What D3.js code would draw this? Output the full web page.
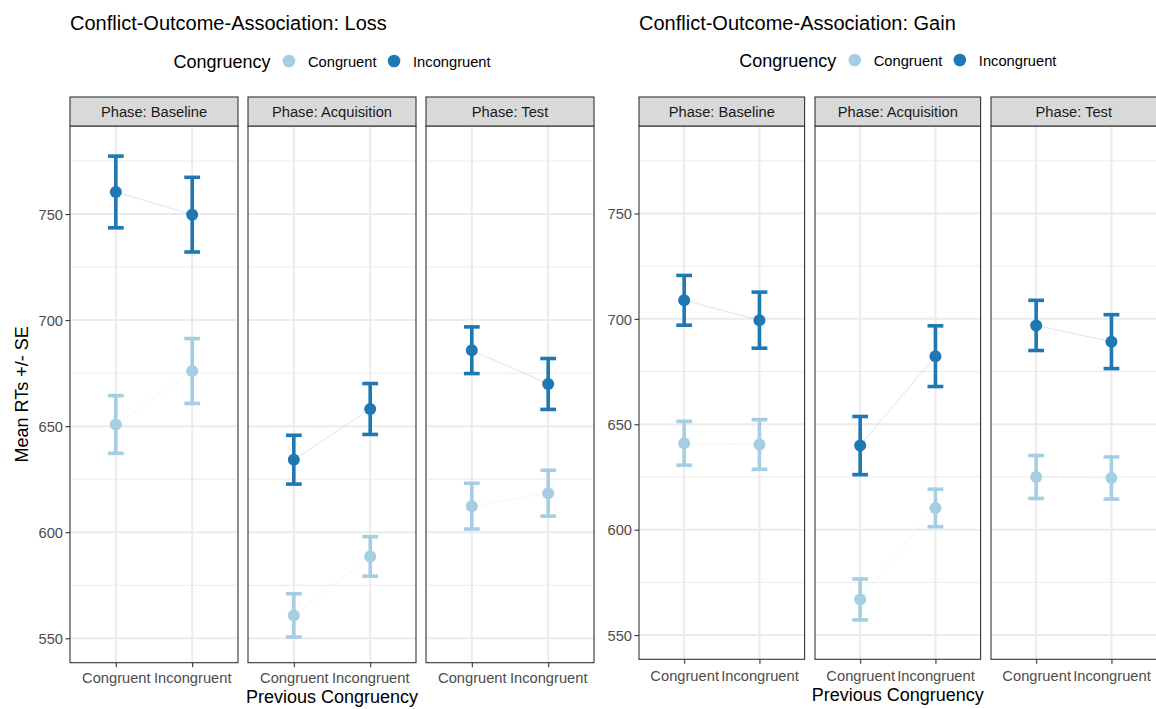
<!DOCTYPE html>
<html>
<head>
<meta charset="utf-8">
<script src="https://cdn.jsdelivr.net/npm/d3@7"></script>
<style>
  body { margin: 0; background: #fff; }
  svg { display: block; }
  text { font-family: "Liberation Sans", Arial, sans-serif; }
</style>
</head>
<body>
<svg id="chart" width="1156" height="709"></svg>
<script>
// ---- Data -------------------------------------------------------------
const phases = ["Baseline", "Acquisition", "Test"];
const prevCongruency = ["Congruent", "Incongruent"];
const congruency = ["Congruent", "Incongruent"];
const yTicks = [550, 600, 650, 700, 750];
const yMinor = [575, 625, 675, 725, 775];
const yLimits = [550, 780];

// mean RT [phase][previous congruency]
const lossCongruentMean   = [[650.8, 676.0], [560.8, 588.6], [612.3, 618.4]];
const lossCongruentSE     = [[13.6, 15.3],   [10.2, 9.3],    [10.8, 10.8]];
const lossIncongruentMean = [[760.4, 749.7], [634.2, 658.1], [685.8, 669.9]];
const lossIncongruentSE   = [[16.9, 17.6],   [11.5, 12.0],   [11.0, 12.0]];

const gainCongruentMean   = [[641.0, 640.4], [566.9, 610.3], [625.0, 624.5]];
const gainCongruentSE     = [[10.4, 11.8],   [9.7, 8.9],     [10.2, 10.0]];
const gainIncongruentMean = [[708.8, 699.4], [639.9, 682.3], [696.9, 689.2]];
const gainIncongruentSE   = [[11.8, 13.3],   [13.8, 14.4],   [11.9, 12.8]];

const seriesColors = ["#a6cee3", "#1f78b4"];

// ---- Layout -------------------------------------------------------------
const layouts = [
  { title: "Conflict-Outcome-Association: Loss",
    means: [lossCongruentMean, lossIncongruentMean], ses: [lossCongruentSE, lossIncongruentSE],
    x0: 70, panelW: 168, gap: 10, top: 126, bottom: 662.7, stripTop: 97,
    titleY: 30, legendY: 61, xTickBase: 683.3, xTitleBase: 703.3 },
  { title: "Conflict-Outcome-Association: Gain",
    means: [gainCongruentMean, gainIncongruentMean], ses: [gainCongruentSE, gainIncongruentSE],
    x0: 639, panelW: 165.6, gap: 10.4, top: 126, bottom: 659.3, stripTop: 97,
    titleY: 30, legendY: 60, xTickBase: 680.7, xTitleBase: 701 }
];

const svg = d3.select("#chart");
svg.append("rect").attr("width", 1156).attr("height", 709).attr("fill", "#fff");

layouts.forEach(L => {
  const g = svg.append("g");
  const span = (yLimits[1] - yLimits[0]) * 0.05;
  const y = d3.scaleLinear()
    .domain([yLimits[0] - span, yLimits[1] + span])
    .range([L.bottom, L.top]);
  const fullW = 3 * L.panelW + 2 * L.gap;
  const cx = L.x0 + fullW / 2;

  // title
  g.append("text").attr("x", L.x0).attr("y", L.titleY)
    .attr("font-size", 20).attr("fill", "#000").text(L.title);

  // legend (centred over panel area)
  const leg = g.append("g");
  const legTitle = leg.append("text").attr("y", L.legendY + 6.5)
    .attr("font-size", 18).attr("fill", "#000").text("Congruency");
  let lx = 0;
  const tW = legTitle.node().getComputedTextLength();
  lx = tW + 18.5;
  congruency.forEach((c, i) => {
    leg.append("circle").attr("cx", lx).attr("cy", L.legendY).attr("r", 6.3)
      .attr("fill", seriesColors[i]);
    const t = leg.append("text").attr("x", lx + 19).attr("y", L.legendY + 5.6)
      .attr("font-size", 14.7).attr("fill", "#000").text(c);
    lx = lx + 19 + t.node().getComputedTextLength() + 17.5;
  });
  const legW = lx - 17.5;
  leg.attr("transform", `translate(${cx - legW / 2},0)`);

  // y-axis title
  if (L.x0 < 100) {
    g.append("text")
      .attr("transform", `translate(27.7,${(L.top + L.bottom) / 2}) rotate(-90)`)
      .attr("text-anchor", "middle").attr("font-size", 18).attr("fill", "#000")
      .text("Mean RTs +/- SE");
  }
  // x-axis title
  g.append("text").attr("x", cx).attr("y", L.xTitleBase)
    .attr("text-anchor", "middle").attr("font-size", 18).attr("fill", "#000")
    .text("Previous Congruency");

  phases.forEach((phase, p) => {
    const px = L.x0 + p * (L.panelW + L.gap);
    const x = d3.scalePoint().domain(prevCongruency)
      .range([px, px + L.panelW]).padding(0.6);
    const pg = g.append("g");

    // grid
    pg.selectAll(".minor").data(yMinor).join("line")
      .attr("x1", px).attr("x2", px + L.panelW)
      .attr("y1", d => y(d)).attr("y2", d => y(d))
      .attr("stroke", "#ebebeb").attr("stroke-width", 1);
    pg.selectAll(".major").data(yTicks).join("line")
      .attr("x1", px).attr("x2", px + L.panelW)
      .attr("y1", d => y(d)).attr("y2", d => y(d))
      .attr("stroke", "#ebebeb").attr("stroke-width", 2);
    pg.selectAll(".vmajor").data(prevCongruency).join("line")
      .attr("x1", d => x(d)).attr("x2", d => x(d))
      .attr("y1", L.top).attr("y2", L.bottom)
      .attr("stroke", "#ebebeb").attr("stroke-width", 2);

    congruency.forEach((c, s) => {
      const pts = prevCongruency.map((pc, k) => ({
        pc, m: L.means[s][p][k], se: L.ses[s][p][k]
      }));
      const col = seriesColors[s];
      // connecting line
      pg.append("path")
        .attr("d", d3.line().x(d => x(d.pc)).y(d => y(d.m))(pts))
        .attr("fill", "none").attr("stroke", col)
        .attr("stroke-opacity", 0.3).attr("stroke-width", 0.6);
      // error bars
      const eb = pg.selectAll(null).data(pts).join("g").attr("stroke", col)
        .attr("stroke-width", 3.6).attr("fill", "none");
      eb.append("line").attr("x1", d => x(d.pc)).attr("x2", d => x(d.pc))
        .attr("y1", d => y(d.m - d.se)).attr("y2", d => y(d.m + d.se));
      eb.append("line").attr("x1", d => x(d.pc) - 7.9).attr("x2", d => x(d.pc) + 7.9)
        .attr("y1", d => y(d.m + d.se)).attr("y2", d => y(d.m + d.se));
      eb.append("line").attr("x1", d => x(d.pc) - 7.9).attr("x2", d => x(d.pc) + 7.9)
        .attr("y1", d => y(d.m - d.se)).attr("y2", d => y(d.m - d.se));
      // points
      pg.selectAll(null).data(pts).join("circle")
        .attr("cx", d => x(d.pc)).attr("cy", d => y(d.m)).attr("r", 6)
        .attr("fill", col);
    });

    // panel border
    pg.append("rect").attr("x", px).attr("y", L.top)
      .attr("width", L.panelW).attr("height", L.bottom - L.top)
      .attr("fill", "none").attr("stroke", "#333").attr("stroke-width", 1.1);
    // strip
    pg.append("rect").attr("x", px).attr("y", L.stripTop)
      .attr("width", L.panelW).attr("height", L.top - L.stripTop)
      .attr("fill", "#d9d9d9").attr("stroke", "#333").attr("stroke-width", 1.1);
    pg.append("text").attr("x", px + L.panelW / 2)
      .attr("y", (L.stripTop + L.top) / 2 + 5.2)
      .attr("text-anchor", "middle").attr("font-size", 14.7).attr("fill", "#1a1a1a")
      .text("Phase: " + phase);

    // x axis
    const xa = pg.append("g").attr("transform", `translate(0,${L.bottom})`)
      .call(d3.axisBottom(x).tickSize(4.5).tickPadding(0));
    xa.select(".domain").remove();
    xa.selectAll(".tick line").attr("stroke", "#333").attr("stroke-width", 1.1);
    xa.selectAll(".tick text").attr("y", L.xTickBase - L.bottom).attr("dy", 0)
      .attr("font-size", 14.7).attr("fill", "#4d4d4d")
      .attr("font-family", "'Liberation Sans', Arial, sans-serif");

    // y axis
    if (p === 0) {
      const ya = pg.append("g").attr("transform", `translate(${px},0)`)
        .call(d3.axisLeft(y).tickValues(yTicks).tickSize(4.5).tickPadding(2.5));
      ya.select(".domain").remove();
      ya.selectAll(".tick line").attr("stroke", "#333").attr("stroke-width", 1.1);
      ya.selectAll(".tick text").attr("dy", "0.36em")
        .attr("font-size", 14.7).attr("fill", "#4d4d4d")
        .attr("font-family", "'Liberation Sans', Arial, sans-serif");
    }
  });
});
</script>
</body>
</html>
